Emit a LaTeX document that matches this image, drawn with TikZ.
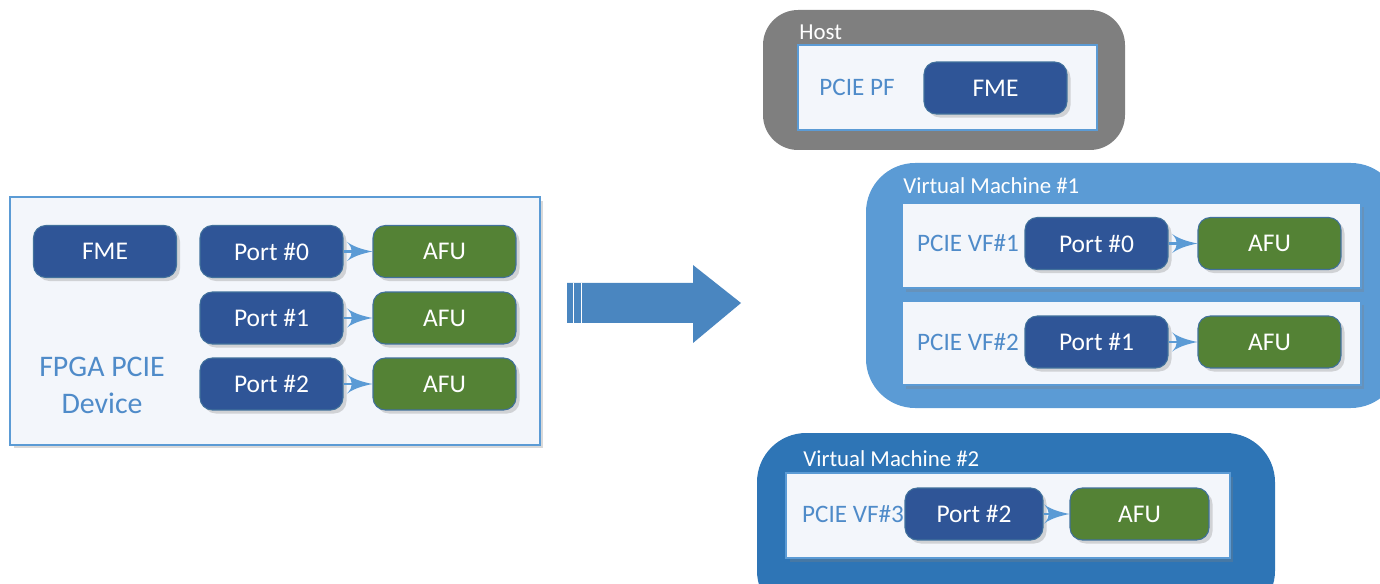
\documentclass[tikz,border=0pt]{standalone}
\usepackage{fontspec}
\setmainfont{Carlito}
\usetikzlibrary{arrows}
\usetikzlibrary{decorations.markings}
\usetikzlibrary{shadows}
\usetikzlibrary{positioning}
\definecolor{portblue}{HTML}{2F5597}
\definecolor{afugreen}{HTML}{548235}
\definecolor{nodeline}{HTML}{41719C}
\definecolor{lightblue}{HTML}{5B9BD5}
\definecolor{labelblue}{HTML}{4F8BC9}
\definecolor{vmone}{HTML}{5B9BD5}
\definecolor{vmtwo}{HTML}{2E75B6}
\definecolor{hostgray}{HTML}{7F7F7F}
\definecolor{bigarrow}{HTML}{4A86C0}
\definecolor{panefill}{HTML}{F3F6FB}
\tikzset{box/.style = {rounded corners=7pt, draw=nodeline, line width=0.6pt, text=white,
                       font=\fontsize{14.5}{17}\selectfont, inner sep=0pt,
                       minimum width=2.86cm, minimum height=1.04cm,
                       drop shadow={opacity=0.3, shadow xshift=2pt, shadow yshift=-2pt}},
         port/.style = {box, fill=portblue},
         afu/.style = {box, fill=afugreen},
         pane/.style = {draw=lightblue, line width=0.8pt, fill=panefill, inner sep=0pt,
                        drop shadow={opacity=0.3, shadow xshift=2pt, shadow yshift=-2pt}},
         caption/.style = {text=labelblue, font=\fontsize{14.3}{17}\selectfont, inner sep=0pt},
         title/.style = {text=white, font=\fontsize{13}{15}\selectfont, anchor=west, inner sep=0pt},
         feed/.style = {draw=lightblue, line width=1.6pt, shorten >=5pt,
                        decoration={markings,
                                    mark=at position 1 with {\arrow[scale=1.9]{latex'}}},
                        postaction={decorate}}}
\begin{document}
\begin{tikzpicture}[x=0.02cm, y=-0.02cm]
      \useasboundingbox (0,0) rectangle (1380,584);

      % device
      \node[pane, minimum width=10.6cm, minimum height=4.96cm] (dev) at (275,321) {};
      \node[port] (fme) at (105,251.5) {FME};
      \node[port] (p0) at (271.5,251.5) {Port \#0};
      \node[afu] (a0) at (444.5,251.5) {AFU};
      \node[port] (p1) at (271.5,318) {Port \#1};
      \node[afu] (a1) at (444.5,318) {AFU};
      \node[port] (p2) at (271.5,384) {Port \#2};
      \node[afu] (a2) at (444.5,384) {AFU};
      \node[caption, font=\fontsize{17}{21}\selectfont, align=center] (dlabel) at (102,385) {FPGA PCIE\\Device};
      \draw [feed] (p0.east) -- (a0.west);
      \draw [feed] (p1.east) -- (a1.west);
      \draw [feed] (p2.east) -- (a2.west);

      % big arrow
      \fill [bigarrow] (567,283) -- (693,283) -- (693,265) -- (741,303) -- (693,343) -- (693,323) -- (567,323) -- cycle;
      \draw [white, line width=0.5pt] (573,283) -- (573,323);
      \draw [white, line width=0.5pt] (581,283) -- (581,323);

      % host
      \fill [hostgray, rounded corners=20pt] (763,10) rectangle (1125,150);
      \node[title] (host) at (799,32) {Host};
      \node[pane, minimum width=5.98cm, minimum height=1.7cm] (pf) at (947.5,87.5) {};
      \node[caption] (pflabel) at (857,87) {PCIE PF};
      \node[port] (hfme) at (995.5,88) {FME};

      % virtual machine 1
      \fill [vmone, rounded corners=28pt] (866,163) rectangle (1400,408);
      \node[title] (vmonet) at (903,186) {Virtual Machine \#1};
      \node[pane, minimum width=9.18cm, minimum height=1.7cm] (vf1) at (1131.5,245.5) {};
      \node[pane, minimum width=9.18cm, minimum height=1.68cm] (vf2) at (1131.5,343) {};
      \node[caption] (vf1l) at (968,243.5) {PCIE VF\#1};
      \node[caption] (vf2l) at (968,342) {PCIE VF\#2};
      \node[port] (q0) at (1096.5,243.5) {Port \#0};
      \node[afu] (b0) at (1269.5,243.5) {AFU};
      \node[port] (q1) at (1096.5,342) {Port \#1};
      \node[afu] (b1) at (1269.5,342) {AFU};
      \draw [feed] (q0.east) -- (b0.west);
      \draw [feed] (q1.east) -- (b1.west);

      % virtual machine 2
      \fill [vmtwo, rounded corners=28pt] (757,433) rectangle (1275,620);
      \node[title] (vmtwot) at (803,459) {Virtual Machine \#2};
      \node[pane, minimum width=8.88cm, minimum height=1.7cm] (vf3) at (1008,515.5) {};
      \node[caption] (vf3l) at (853,514) {PCIE VF\#3};
      \node[port, minimum width=2.76cm] (q2) at (974,514) {Port \#2};
      \node[afu, minimum width=2.78cm] (b2) at (1139.5,514) {AFU};
      \draw [feed] (q2.east) -- (b2.west);
    \end{tikzpicture}
\end{document}
